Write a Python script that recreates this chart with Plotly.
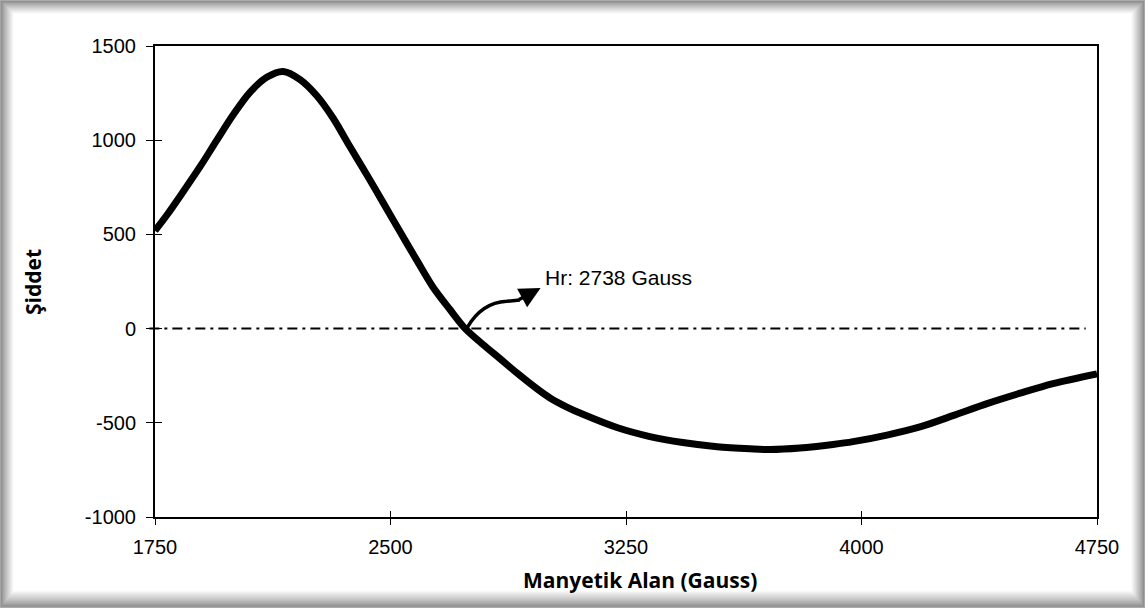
import plotly.graph_objects as go

# EPR-style derivative signal: intensity vs. magnetic field
field_gauss = [1750, 1788, 1839, 1893, 1947, 1998, 2053, 2107, 2158, 2212, 2266,
               2317, 2371, 2425, 2476, 2530, 2584, 2635, 2690, 2738, 2795, 2849,
               2903, 2967, 3008, 3060, 3113, 3221, 3326, 3431, 3540, 3645, 3709,
               3804, 3909, 3973, 4081, 4186, 4291, 4400, 4505, 4610, 4750]
intensity = [520, 603, 725, 858, 1000, 1132, 1255, 1335, 1365, 1322, 1235,
             1118, 965, 815, 670, 515, 362, 221, 100, 0, -85, -160,
             -236, -320, -368, -415, -455, -525, -573, -605, -627, -638, -642,
             -634, -615, -600, -565, -522, -462, -398, -343, -292, -240]

x_ticks = [1750, 2500, 3250, 4000, 4750]
x_tick_text = ["1750", "2500", "3250", "4000", "4750"]
y_ticks = [-1000, -500, 0, 500, 1000, 1500]
y_tick_text = ["-1000", "-500", "0", "500", "1000", "1500"]

resonance_field = 2738
resonance_label = "Hr: 2738 Gauss"

W, H = 1145, 608
L, R, T, B = 155, 48, 46, 91
PW, PH = W - L - R, H - T - B


def px_to_paper(px, py):
    return (px - L) / PW, (H - B - py) / PH


fig = go.Figure()

fig.add_trace(go.Scatter(
    x=field_gauss, y=intensity, mode="lines",
    line=dict(color="#000000", width=7, shape="spline", smoothing=0.9),
    hoverinfo="skip", showlegend=False,
))

# empty trace carrying the overlay axes used for the inner half of cross ticks
fig.add_trace(go.Scatter(x=[], y=[], xaxis="x2", yaxis="y2", showlegend=False))

tick_font = dict(family="Liberation Sans, Arial", size=20, color="#000000")

fig.update_layout(
    width=W, height=H,
    margin=dict(l=L, r=R, t=T, b=B, pad=0),
    paper_bgcolor="#ffffff", plot_bgcolor="#ffffff",
    xaxis=dict(range=[1750, 4750], tickvals=x_ticks, ticktext=x_tick_text,
               showgrid=False, zeroline=False, showline=True, linecolor="#000000",
               linewidth=2, mirror=True, ticks="outside", ticklen=6, tickwidth=1,
               tickcolor="#000000", tickfont=tick_font, ticklabelstandoff=5),
    yaxis=dict(range=[-1000, 1500], tickvals=y_ticks, ticktext=y_tick_text,
               showgrid=False, zeroline=False, showline=True, linecolor="#000000",
               linewidth=2, mirror=True, ticks="outside", ticklen=7, tickwidth=1,
               tickcolor="#000000", tickfont=tick_font, ticklabelstandoff=6),
    xaxis2=dict(range=[1750, 4750], overlaying="x", anchor="y2", tickvals=x_ticks,
                showticklabels=False, showgrid=False, zeroline=False, showline=False,
                ticks="inside", ticklen=6, tickwidth=1, tickcolor="#000000"),
    yaxis2=dict(range=[-1000, 1500], overlaying="y", anchor="x2", tickvals=y_ticks,
                showticklabels=False, showgrid=False, zeroline=False, showline=False,
                ticks="inside", ticklen=7, tickwidth=1, tickcolor="#000000"),
)

# zero baseline, dash-dot
fig.add_shape(type="line", xref="paper", yref="y", x0=-0.006, x1=0.988, y0=0, y1=0,
              line=dict(color="#000000", width=2, dash="10px,5px,3px,5px"))

# shaded picture frame around the chart
steps = 16
for i in range(steps):
    t = i / (steps - 1)
    if i == 0:
        g = 170
    else:
        g = int(128 + (255 - 128) * (t ** 0.8))
    x0, y0 = px_to_paper(i * 0.9, H - i * 1.15)
    x1, y1 = px_to_paper(W - i * 0.9, i * 0.9)
    fig.add_shape(type="rect", xref="paper", yref="paper", x0=x0, y0=y0, x1=x1, y1=y1,
                  line=dict(width=0), fillcolor=f"rgb({g},{g},{g})", layer="below")

# curved leader from the zero crossing to the label
fig.add_shape(type="path", xref="x", yref="y",
              path=f"M {resonance_field + 6},4 C 2775,95 2815,140 2870,145 L 2912,152",
              line=dict(color="#000000", width=3.5))
fig.add_annotation(x=2978, y=216, ax=2905, ay=150, xref="x", yref="y",
                   axref="x", ayref="y", text="", showarrow=True,
                   arrowhead=2, arrowsize=1.2, arrowwidth=3.5, arrowcolor="#000000")

lx, ly = px_to_paper(543, 277)
fig.add_annotation(x=lx, y=ly, xref="paper", yref="paper", text=resonance_label,
                   showarrow=False, xanchor="left", yanchor="middle",
                   font=dict(family="Liberation Sans, Arial", size=21, color="#000000"))

# axis titles
tx, ty = px_to_paper(640, 580)
fig.add_annotation(x=tx, y=ty, xref="paper", yref="paper", text="<b>Manyetik Alan (Gauss)</b>",
                   showarrow=False, xanchor="center", yanchor="middle",
                   font=dict(family="Open Sans, Noto Sans", size=21, color="#000000"))
sx, sy = px_to_paper(33, 282)
fig.add_annotation(x=sx, y=sy, xref="paper", yref="paper", text="<b>Şiddet</b>",
                   showarrow=False, xanchor="center", yanchor="middle", textangle=-90,
                   font=dict(family="Open Sans, Noto Sans", size=21, color="#000000"))

fig.write_html("out.html")
